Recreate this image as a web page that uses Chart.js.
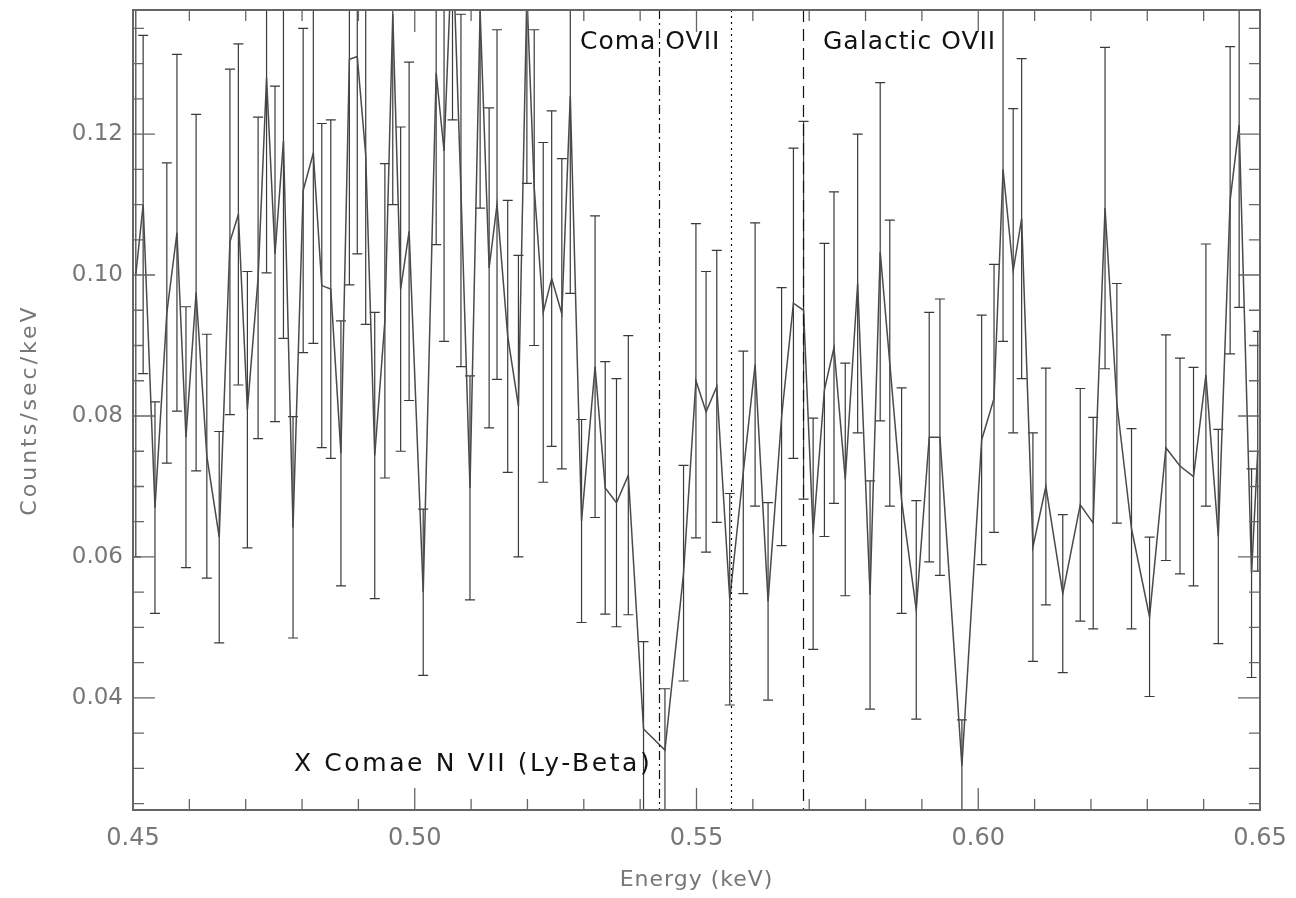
<!DOCTYPE html>
<html>
<head>
<meta charset="utf-8">
<script src="https://cdn.jsdelivr.net/npm/chart.js@4.4.0/dist/chart.umd.min.js"></script>
<style>
  html, body { margin: 0; padding: 0; background: #fff; }
  #wrap { width: 1296px; height: 898px; }
</style>
</head>
<body>
<div id="wrap"><canvas id="c" width="1296" height="898"></canvas></div>
<script>
// spectrum (keV, counts/sec/keV, 1-sigma error)
const energy = [
  0.4505, 0.4518, 0.4539, 0.4560, 0.4578, 0.4594, 0.4612, 0.4631, 0.4653, 0.4672,
  0.4687, 0.4703, 0.4722, 0.4737, 0.4752, 0.4767, 0.4784, 0.4802, 0.4820, 0.4835,
  0.4851, 0.4869, 0.4884, 0.4898, 0.4913, 0.4929, 0.4947, 0.4961, 0.4975, 0.4990,
  0.5015, 0.5038, 0.5052, 0.5067, 0.5082, 0.5098, 0.5116, 0.5132, 0.5146, 0.5165,
  0.5184, 0.5199, 0.5212, 0.5228, 0.5243, 0.5261, 0.5276, 0.5296, 0.5320, 0.5338,
  0.5358, 0.5379, 0.5406, 0.5444, 0.5477, 0.5499, 0.5517, 0.5536, 0.5559, 0.5583,
  0.5604, 0.5627, 0.5651, 0.5672, 0.5690, 0.5707, 0.5727, 0.5744, 0.5764, 0.5786,
  0.5808, 0.5826, 0.5843, 0.5864, 0.5890, 0.5913, 0.5932, 0.5971, 0.6006, 0.6028,
  0.6044, 0.6062, 0.6077, 0.6097, 0.6120, 0.6150, 0.6181, 0.6204, 0.6225, 0.6246,
  0.6272, 0.6304, 0.6333, 0.6358, 0.6382, 0.6404, 0.6426, 0.6447, 0.6463, 0.6485,
  0.6496
];
const counts = [
  0.100, 0.110, 0.067, 0.0946, 0.106, 0.077, 0.0975, 0.0743, 0.0628, 0.1047,
  0.1086, 0.0809, 0.0996, 0.128, 0.103, 0.119, 0.0642, 0.112, 0.1173, 0.0985,
  0.098, 0.0747, 0.1306, 0.131, 0.117, 0.0744, 0.0935, 0.137, 0.098, 0.1062,
  0.055, 0.1287, 0.1176, 0.148, 0.112, 0.0698, 0.1375, 0.101, 0.110, 0.0913,
  0.0814, 0.140, 0.1124, 0.0947, 0.0995, 0.0945, 0.1254, 0.0651, 0.087, 0.0698,
  0.0677, 0.0716, 0.0356, 0.0326, 0.0577, 0.085, 0.0806, 0.0842, 0.054, 0.072,
  0.0873, 0.0537, 0.0799, 0.096, 0.095, 0.0633, 0.0837, 0.0897, 0.071, 0.0988,
  0.0546, 0.1033, 0.0875, 0.068, 0.0525, 0.077, 0.077, 0.0304, 0.0766, 0.0825,
  0.115, 0.1006, 0.108, 0.0614, 0.070, 0.0548, 0.0674, 0.0648, 0.1095, 0.0818,
  0.064, 0.0515, 0.0755, 0.0729, 0.0714, 0.0858, 0.0629, 0.1106, 0.1213, 0.0577,
  0.075
];
const errors = [
  0.040, 0.024, 0.015, 0.0213, 0.0253, 0.0185, 0.0253, 0.0173, 0.015, 0.0245,
  0.0242, 0.0196, 0.0228, 0.0277, 0.0238, 0.028, 0.0157, 0.023, 0.027, 0.023,
  0.024, 0.0188, 0.032, 0.028, 0.024, 0.0203, 0.0223, 0.027, 0.023, 0.024,
  0.0118, 0.0244, 0.027, 0.026, 0.025, 0.0159, 0.028, 0.0227, 0.0248, 0.0193,
  0.0214, 0.027, 0.0224, 0.0241, 0.0238, 0.022, 0.028, 0.0144, 0.0214, 0.0179,
  0.0176, 0.0198, 0.0124, 0.0087, 0.0153, 0.0223, 0.0199, 0.0193, 0.015, 0.0172,
  0.0201, 0.014, 0.0183, 0.022, 0.0268, 0.0164, 0.0208, 0.0221, 0.0165, 0.0212,
  0.0162, 0.024, 0.0203, 0.016, 0.0155, 0.0177, 0.0196, 0.0065, 0.0177, 0.019,
  0.0244, 0.023, 0.0227, 0.0162, 0.0168, 0.0112, 0.0165, 0.015, 0.0228, 0.017,
  0.0142, 0.0113, 0.016, 0.0153, 0.0155, 0.0186, 0.0152, 0.0218, 0.0259, 0.0148,
  0.017
];

const xTicks = [0.45, 0.50, 0.55, 0.60, 0.65];
const yTicks = [0.04, 0.06, 0.08, 0.10, 0.12];

// line markers: position (keV) and dash pattern
const markerEnergies = [0.5433, 0.5561, 0.5689];
const markerDashes = [[9, 4, 2, 4], [2, 4], [12, 7]];

const labelTexts = ['Coma OVII', 'Galactic OVII', 'X Comae N VII (Ly-Beta)'];

const extras = {
  id: 'extras',
  beforeDatasetsDraw(chart) {
    const { ctx, chartArea: a, scales: { x, y } } = chart;
    ctx.save();
    ctx.beginPath();
    ctx.rect(a.left, a.top, a.right - a.left, a.bottom - a.top);
    ctx.clip();
    ctx.strokeStyle = '#3a3a3a';
    ctx.lineWidth = 1.2;
    for (let i = 0; i < energy.length; i++) {
      const px = x.getPixelForValue(energy[i]);
      const top = y.getPixelForValue(counts[i] + errors[i]);
      const bot = y.getPixelForValue(counts[i] - errors[i]);
      ctx.beginPath();
      ctx.moveTo(px, top); ctx.lineTo(px, bot);
      ctx.moveTo(px - 5, top); ctx.lineTo(px + 5, top);
      ctx.moveTo(px - 5, bot); ctx.lineTo(px + 5, bot);
      ctx.stroke();
    }
    ctx.restore();
  },
  afterDatasetsDraw(chart) {
    const { ctx, chartArea: a, scales: { x, y } } = chart;
    ctx.save();

    // vertical line markers
    ctx.strokeStyle = '#111';
    ctx.lineWidth = 1.2;
    markerEnergies.forEach((e, i) => {
      const px = Math.round(x.getPixelForValue(e)) + 0.5;
      ctx.setLineDash(markerDashes[i]);
      ctx.beginPath();
      ctx.moveTo(px, a.top); ctx.lineTo(px, a.bottom);
      ctx.stroke();
    });
    ctx.setLineDash([]);

    // frame with inward ticks on all sides
    ctx.strokeStyle = '#666';
    ctx.lineWidth = 2;
    ctx.strokeRect(a.left, a.top, a.right - a.left, a.bottom - a.top);
    ctx.lineWidth = 1.3;
    ctx.beginPath();
    for (let v = 0.45; v <= 0.6501; v += 0.01) {
      const px = x.getPixelForValue(v);
      const major = Math.abs(v * 20 - Math.round(v * 20)) < 1e-6;
      const len = major ? 22 : 11;
      ctx.moveTo(px, a.bottom); ctx.lineTo(px, a.bottom - len);
      ctx.moveTo(px, a.top); ctx.lineTo(px, a.top + len);
    }
    for (let v = 0.025; v <= 0.1376; v += 0.005) {
      const py = y.getPixelForValue(v);
      const major = Math.abs(v * 50 - Math.round(v * 50)) < 1e-6;
      const len = major ? 22 : 11;
      ctx.moveTo(a.left, py); ctx.lineTo(a.left + len, py);
      ctx.moveTo(a.right, py); ctx.lineTo(a.right - len, py);
    }
    ctx.stroke();

    // annotations
    ctx.fillStyle = '#111';
    ctx.font = '25px "DejaVu Sans"';
    ctx.letterSpacing = '1px';
    ctx.textBaseline = 'middle';
    ctx.textAlign = 'left';
    ctx.fillText(labelTexts[0], 580, 42);
    ctx.fillText(labelTexts[1], 823, 42);
    ctx.letterSpacing = '2.6px';
    ctx.fillText(labelTexts[2], 294, 764);

    // axis titles
    ctx.fillStyle = '#777';
    ctx.font = '22px "DejaVu Sans"';
    ctx.letterSpacing = '1px';
    ctx.textAlign = 'center';
    ctx.fillText('Energy (keV)', (a.left + a.right) / 2, 880);
    ctx.translate(30, (a.top + a.bottom) / 2);
    ctx.rotate(-Math.PI / 2);
    ctx.letterSpacing = '3px';
    ctx.fillText('Counts/sec/keV', 0, 0);
    ctx.restore();
  }
};

new Chart(document.getElementById('c'), {
  type: 'line',
  data: {
    datasets: [{
      data: energy.map((e, i) => ({ x: e, y: counts[i] })),
      borderColor: '#4a4a4a',
      borderWidth: 1.5,
      pointRadius: 0,
      tension: 0,
      fill: false
    }]
  },
  options: {
    responsive: false,
    devicePixelRatio: 1,
    animation: false,
    parsing: false,
    layout: { padding: { top: 10, right: 36, left: 0, bottom: 0 } },
    plugins: { legend: { display: false }, tooltip: { enabled: false } },
    scales: {
      x: {
        type: 'linear',
        min: 0.45,
        max: 0.65,
        afterBuildTicks: s => { s.ticks = xTicks.map(v => ({ value: v })); },
        afterFit: s => { s.height = 88; s.paddingLeft = 0; s.paddingRight = 0; },
        grid: { display: false, drawTicks: false },
        border: { display: false },
        ticks: {
          callback: v => v.toFixed(2),
          color: '#777',
          font: { family: 'DejaVu Sans', size: 24 },
          padding: 14,
          maxRotation: 0,
          autoSkip: false
        }
      },
      y: {
        type: 'linear',
        min: 0.0241,
        max: 0.1376,
        afterBuildTicks: s => { s.ticks = yTicks.map(v => ({ value: v })); },
        afterFit: s => { s.width = 133; s.paddingTop = 0; s.paddingBottom = 0; },
        grid: { display: false, drawTicks: false },
        border: { display: false },
        ticks: {
          callback: v => v.toFixed(2),
          color: '#777',
          font: { family: 'DejaVu Sans', size: 23 },
          padding: 10
        }
      }
    }
  },
  plugins: [extras]
});
</script>
</body>
</html>
